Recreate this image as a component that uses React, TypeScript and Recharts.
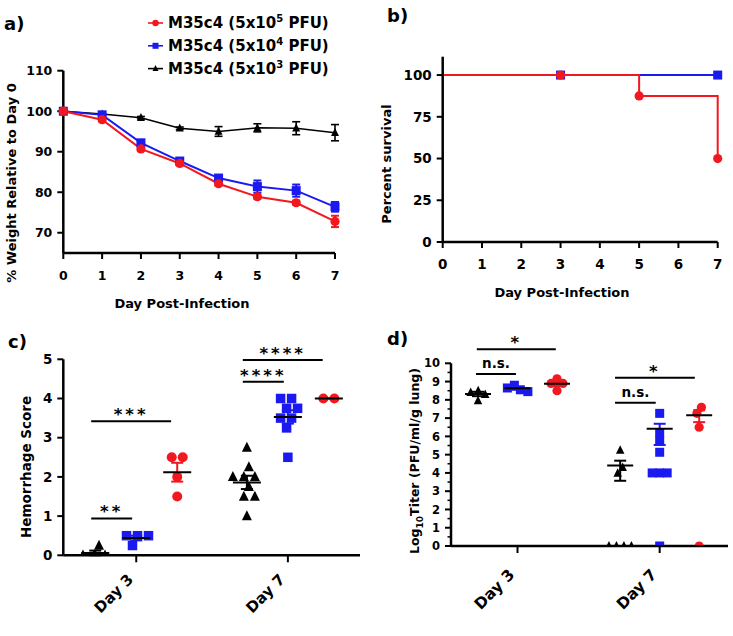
import React from "react";
import {
  LineChart, Line, ScatterChart, Scatter, XAxis, YAxis, ErrorBar,
  ReferenceLine, ReferenceDot,
} from "recharts";

const FONT = "'DejaVu Sans', Verdana, sans-serif";
const RED = "#f2181f";
const BLUE = "#1a1af0";
const BLACK = "#000000";

// a) weight relative to day 0 (mean, SEM)
const days = [0, 1, 2, 3, 4, 5, 6, 7];
const weight5e5 = [100, 97.9, 90.7, 87.1, 82.1, 78.9, 77.4, 72.8];
const weight5e5Sem = [0.3, 0.4, 0.5, 0.5, 0.5, 0.5, 0.5, 1.4];
const weight5e4 = [100, 99.1, 92.2, 87.7, 83.5, 81.4, 80.4, 76.4];
const weight5e4Sem = [0.3, 0.3, 0.5, 0.4, 0.6, 1.5, 1.5, 1.2];
const weight5e3 = [100, 99.3, 98.4, 95.8, 95.0, 95.9, 95.8, 94.7];
const weight5e3Sem = [0.2, 0.2, 0.3, 0.3, 1.2, 1.0, 1.6, 2.0];

// b) percent survival
const survDays5e5 = [0, 3, 5, 7];
const survPct5e5 = [100, 100, 87.5, 50];
const survDays5e4 = [0, 3, 7];
const survPct5e4 = [100, 100, 100];
const survDays5e3 = [0, 3, 7];
const survPct5e3 = [100, 100, 100];

// c) hemorrhage score, individual mice
const hem5e3Day3 = [0, 0, 0, 0.25];
const hem5e3Day7 = [2.75, 2.25, 2, 2, 2, 1.75, 1.5, 1.5, 1];
const hem5e4Day3 = [0.5, 0.5, 0.5, 0.25];
const hem5e4Day7 = [4, 4, 3.75, 3.75, 3.5, 3.5, 3.25, 2.5];
const hem5e5Day3 = [2.5, 2.5, 2, 1.5];
const hem5e5Day7 = [4, 4];
const hemMean5e3 = [0.06, 1.86];
const hemSem5e3 = [0.06, 0.17];
const hemMean5e4 = [0.44, 3.53];
const hemSem5e4 = [0.06, 0.17];
const hemMean5e5 = [2.12, 4.0];
const hemSem5e5 = [0.24, 0];

// d) lung titers (log10 PFU/ml/g)
const titer5e3Day3 = [8.5, 8.4, 8.3, 7.95];
const titer5e3Day7 = [5.25, 4.3, 3.98, 0, 0, 0, 0];
const titer5e4Day3 = [8.8, 8.65, 8.55, 8.45];
const titer5e4Day7 = [7.26, 6.2, 5.75, 5.13, 4, 4, 4, 0];
const titer5e5Day3 = [9.15, 8.9, 8.9, 8.5];
const titer5e5Day7 = [7.59, 7.26, 6.5, 0];
const titerMean5e3 = [8.32, 4.4];
const titerLow5e3 = [0.12, 0.83];
const titerHigh5e3 = [0.12, 0.27];
const titerMean5e4 = [8.63, 6.42];
const titerLow5e4 = [0.08, 0.89];
const titerHigh5e4 = [0.08, 0.27];
const titerMean5e5 = [8.88, 7.15];
const titerLow5e5 = [0.12, 0.37];
const titerHigh5e5 = [0.12, 0.28];

const hemSig = [
  { x1: 0.9, x2: 1.9, y: 0.94, text: "**" },
  { x1: 0.9, x2: 2.85, y: 3.42, text: "***" },
  { x1: 4.6, x2: 5.6, y: 4.43, text: "****" },
  { x1: 4.6, x2: 6.55, y: 4.98, text: "****" },
];
const titerSig = [
  { x1: 0.95, x2: 1.96, y: 9.41, text: "n.s." },
  { x1: 0.97, x2: 2.97, y: 10.77, text: "*" },
  { x1: 4.47, x2: 5.5, y: 7.84, text: "n.s." },
  { x1: 4.47, x2: 6.49, y: 9.21, text: "*" },
];

// column centres on the x axis of c) and d)
const hemCols = [1, 4.7];
const titerCols = [1, 4.6];

const axisLine = { stroke: "#000", strokeWidth: 2.5 };
const tickLine = { stroke: "#000", strokeWidth: 2 };
const tickFont = (size: number) => ({ fill: "#000", fontSize: size, fontWeight: 700, fontFamily: FONT });

// beeswarm placement of one column; pxX / pxY are pixels per axis unit, d is the marker spacing
function swarm(values: number[], center: number, pxX: number, pxY: number, d: number) {
  const sorted = [...values].sort((a, b) => b - a);
  const placed: { dx: number; y: number }[] = [];
  sorted.forEach((v) => {
    for (let k = 0; k < 400; k++) {
      const off = k === 0 ? 0 : (k % 2 ? -1 : 1) * Math.ceil(k / 2) * 0.5;
      const free = placed.every((p) => Math.hypot(p.dx - off, (p.y - v) * pxY) >= d);
      if (free) { placed.push({ dx: off, y: v }); break; }
    }
  });
  // centre each touching group on the column
  const root = placed.map((_, i) => i);
  const find = (i: number): number => (root[i] === i ? i : (root[i] = find(root[i])));
  for (let i = 0; i < placed.length; i++)
    for (let j = i + 1; j < placed.length; j++)
      if (Math.hypot(placed[i].dx - placed[j].dx, (placed[i].y - placed[j].y) * pxY) <= d + 0.6)
        root[find(i)] = find(j);
  const sums: Record<number, { s: number; n: number }> = {};
  placed.forEach((p, i) => {
    const r = find(i);
    sums[r] = sums[r] || { s: 0, n: 0 };
    sums[r].s += p.dx; sums[r].n += 1;
  });
  return placed.map((p, i) => {
    const g = sums[find(i)];
    return { x: center + (p.dx - g.s / g.n) / pxX, y: p.y };
  });
}

const triPoints = (cx: number, cy: number, s: number) =>
  `${cx},${cy - s * 0.58} ${cx - s / 2},${cy + s * 0.42} ${cx + s / 2},${cy + s * 0.42}`;

const circleShape = (r: number, fill: string, clip: string) => (p: any) =>
  <circle cx={p.cx} cy={p.cy} r={r} fill={fill} clipPath={`url(#${clip})`} />;
const squareShape = (s: number, fill: string, clip: string) => (p: any) =>
  <rect x={p.cx - s / 2} y={p.cy - s / 2} width={s} height={s} fill={fill} clipPath={`url(#${clip})`} />;
const triShape = (s: number, fill: string, clip: string) => (p: any) =>
  <polygon points={triPoints(p.cx, p.cy, s)} fill={fill} clipPath={`url(#${clip})`} />;
const meanShape = (half: number) => (p: any) =>
  <line x1={p.cx - half} x2={p.cx + half} y1={p.cy} y2={p.cy} stroke="#000" strokeWidth={2} />;

const skipFirst = (draw: (p: any) => React.ReactElement) => (p: any) =>
  p.payload && p.payload.day === 0 ? <g key={"s" + p.index} /> : <g key={"s" + p.index}>{draw(p)}</g>;
const dotOf = (draw: (p: any) => React.ReactElement) => (p: any) => <g key={"d" + p.index}>{draw(p)}</g>;

const dayTick = (drop: number, fs: number) => (p: any) => {
  const ax = p.x - 2;
  const ay = p.y + drop;
  return (
    <text x={ax} y={ay} transform={`rotate(-45 ${ax} ${ay})`} textAnchor="end"
      fontSize={fs} fontWeight={700} fontFamily={FONT} fill="#000">
      {p.payload.value < 4 ? "Day 3" : "Day 7"}
    </text>
  );
};

const sigText = (text: string) => (p: any) => {
  const ns = text === "n.s.";
  return (
    <text x={p.cx} y={p.cy - (ns ? 6 : 1)} textAnchor="middle" fontFamily={FONT} fontWeight={700}
      fontSize={ns ? 13.5 : 16.5} letterSpacing={ns ? 0 : 3} fill="#000">
      {text}
    </text>
  );
};

const TITER_AXIS_X = 81;
const TiterTick = (p: any) => {
  const v = p.payload.value;
  const major = Math.abs(v - Math.round(v)) < 1e-6;
  return (
    <g>
      <line x1={TITER_AXIS_X - (major ? 6 : 3.5)} x2={TITER_AXIS_X} y1={p.y} y2={p.y} stroke="#000" strokeWidth={major ? 2 : 1.5} />
      {major && (
        <text x={TITER_AXIS_X - 11} y={p.y} dy="0.36em" textAnchor="end" fontSize={11.5} fontWeight={700} fontFamily={FONT} fill="#000">
          {v}
        </text>
      )}
    </g>
  );
};

const meanRows = (cols: number[], means: number[], low: number[], high: number[]) =>
  cols.map((x, i) => ({ x, y: means[i], err: [low[i], high[i]] }));

function WeightPanel() {
  const rows = days.map((d, i) => ({
    day: d,
    w5: weight5e5[i], w5Err: weight5e5Sem[i],
    w4: weight5e4[i], w4Err: weight5e4Sem[i],
    w3: weight5e3[i], w3Err: weight5e3Sem[i],
  }));
  return (
    <LineChart width={360} height={320} data={rows} margin={{ top: 70.7, right: 25, bottom: 27, left: 13.3 }}>
      <XAxis type="number" dataKey="day" domain={[0, 7]} ticks={days} height={40} axisLine={axisLine}
        tickLine={tickLine} tickSize={6} tickMargin={12} tick={tickFont(12.5)} />
      <YAxis type="number" domain={[65, 110]} ticks={[70, 80, 90, 100, 110]} width={50} axisLine={axisLine}
        tickLine={tickLine} tickSize={6} tickMargin={5} tick={tickFont(12.5)} />
      <Line dataKey="w3" stroke={BLACK} strokeWidth={1.6} isAnimationActive={false} activeDot={false}
        dot={dotOf((p) => <polygon points={triPoints(p.cx, p.cy, 8)} fill={BLACK} />)}>
        <ErrorBar dataKey="w3Err" direction="y" width={4} stroke={BLACK} strokeWidth={1.6} />
      </Line>
      <Line dataKey="w4" stroke={BLUE} strokeWidth={2} isAnimationActive={false} activeDot={false}
        dot={dotOf((p) => <rect x={p.cx - 4.5} y={p.cy - 4.5} width={9} height={9} fill={BLUE} />)}>
        <ErrorBar dataKey="w4Err" direction="y" width={4} stroke={BLUE} strokeWidth={2} />
      </Line>
      <Line dataKey="w5" stroke={RED} strokeWidth={2} isAnimationActive={false} activeDot={false}
        dot={dotOf((p) => <circle cx={p.cx} cy={p.cy} r={4.6} fill={RED} />)}>
        <ErrorBar dataKey="w5Err" direction="y" width={4} stroke={RED} strokeWidth={2} />
      </Line>
    </LineChart>
  );
}

function SurvivalPanel() {
  const r5 = survDays5e5.map((d, i) => ({ day: d, pct: survPct5e5[i] }));
  const r4 = survDays5e4.map((d, i) => ({ day: d, pct: survPct5e4[i] }));
  const r3 = survDays5e3.map((d, i) => ({ day: d, pct: survPct5e3[i] }));
  return (
    <LineChart width={363} height={320} margin={{ top: 56.7, right: 15.3, bottom: 38, left: 22.7 }}>
      <XAxis type="number" dataKey="day" domain={[0, 7]} ticks={days} height={40} axisLine={axisLine}
        tickLine={tickLine} tickSize={6} tickMargin={11} tick={tickFont(13.5)} />
      <YAxis type="number" domain={[0, 111]} ticks={[0, 25, 50, 75, 100]} width={50} axisLine={axisLine}
        tickLine={tickLine} tickSize={6} tickMargin={5} tick={tickFont(13.5)} />
      <Line data={r3} dataKey="pct" type="stepAfter" stroke={BLACK} strokeWidth={2} isAnimationActive={false}
        activeDot={false} dot={skipFirst((p) => <polygon points={triPoints(p.cx, p.cy, 7)} fill={BLACK} />)} />
      <Line data={r4} dataKey="pct" type="stepAfter" stroke={BLUE} strokeWidth={2} isAnimationActive={false}
        activeDot={false} dot={skipFirst((p) => <rect x={p.cx - 4.5} y={p.cy - 4.5} width={9} height={9} fill={BLUE} />)} />
      <Line data={r5} dataKey="pct" type="stepAfter" stroke={RED} strokeWidth={2} isAnimationActive={false}
        activeDot={false} dot={skipFirst((p) => <circle cx={p.cx} cy={p.cy} r={4.6} fill={RED} />)} />
    </LineChart>
  );
}

function HemorrhagePanel() {
  const sw = (vals: number[], c: number) => swarm(vals, c, 41, 39.2, 11);
  const p3 = [...sw(hem5e3Day3, hemCols[0]), ...sw(hem5e3Day7, hemCols[1])];
  const p4 = [...sw(hem5e4Day3, hemCols[0] + 1), ...sw(hem5e4Day7, hemCols[1] + 1)];
  const p5 = [...sw(hem5e5Day3, hemCols[0] + 2), ...sw(hem5e5Day7, hemCols[1] + 2)];
  return (
    <ScatterChart width={370} height={316} margin={{ top: 39.3, right: 10, bottom: 20.7, left: 23.3 }}>
      <XAxis type="number" dataKey="x" domain={[0.22, 7.46]} ticks={[2, 5.7]} height={60} allowDataOverflow
        axisLine={axisLine} tickLine={tickLine} tickSize={7} tickMargin={0} tick={dayTick(18, 15)} />
      <YAxis type="number" dataKey="y" domain={[0, 5]} ticks={[0, 1, 2, 3, 4, 5]} width={40} allowDataOverflow
        axisLine={axisLine} tickLine={tickLine} tickSize={6} tickMargin={5} tick={tickFont(13.5)} />
      <Scatter data={p3} shape={triShape(10, BLACK, "clipHem")} isAnimationActive={false} />
      <Scatter data={p4} shape={squareShape(9.5, BLUE, "clipHem")} isAnimationActive={false} />
      <Scatter data={p5} shape={circleShape(5, RED, "clipHem")} isAnimationActive={false} />
      <Scatter data={meanRows(hemCols, hemMean5e3, hemSem5e3, hemSem5e3)} shape={meanShape(14)} isAnimationActive={false}>
        <ErrorBar dataKey="err" direction="y" width={6} stroke={BLACK} strokeWidth={2} />
      </Scatter>
      <Scatter data={meanRows(hemCols.map((c) => c + 1), hemMean5e4, hemSem5e4, hemSem5e4)} shape={meanShape(14)} isAnimationActive={false}>
        <ErrorBar dataKey="err" direction="y" width={6} stroke={BLUE} strokeWidth={2} />
      </Scatter>
      <Scatter data={meanRows(hemCols.map((c) => c + 2), hemMean5e5, hemSem5e5, hemSem5e5)} shape={meanShape(14)} isAnimationActive={false}>
        <ErrorBar dataKey="err" direction="y" width={6} stroke={RED} strokeWidth={2} />
      </Scatter>
      {hemSig.map((s, i) => (
        <ReferenceLine key={"l" + i} segment={[{ x: s.x1, y: s.y }, { x: s.x2, y: s.y }]} stroke="#000" strokeWidth={2} ifOverflow="visible" />
      ))}
      {hemSig.map((s, i) => (
        <ReferenceDot key={"t" + i} x={(s.x1 + s.x2) / 2} y={s.y} r={0} ifOverflow="visible" shape={sigText(s.text)} />
      ))}
    </ScatterChart>
  );
}

function TiterPanel() {
  const sw = (vals: number[], c: number) => swarm(vals, c, 39.5, 18.27, 7.5);
  const p3 = [...sw(titer5e3Day3, titerCols[0]), ...sw(titer5e3Day7, titerCols[1])];
  const p4 = [...sw(titer5e4Day3, titerCols[0] + 1), ...sw(titer5e4Day7, titerCols[1] + 1)];
  const p5 = [...sw(titer5e5Day3, titerCols[0] + 2), ...sw(titer5e5Day7, titerCols[1] + 2)];
  const yTicks = Array.from({ length: 21 }, (_, i) => i / 2);
  return (
    <ScatterChart width={363} height={316} margin={{ top: 43.3, right: 5, bottom: 30, left: TITER_AXIS_X - 40 }}>
      <XAxis type="number" dataKey="x" domain={[0.316, 7.33]} ticks={[2, 5.6]} height={60} allowDataOverflow
        axisLine={axisLine} tickLine={tickLine} tickSize={7} tickMargin={0} tick={dayTick(22.7, 15.5)} />
      <YAxis type="number" dataKey="y" domain={[0, 10]} ticks={yTicks} interval={0} width={40} allowDataOverflow
        axisLine={axisLine} tickLine={false} tickSize={6} tickMargin={6} tick={TiterTick} />
      <Scatter data={p3} shape={triShape(8.5, BLACK, "clipTiter")} isAnimationActive={false} />
      <Scatter data={p4} shape={squareShape(9, BLUE, "clipTiter")} isAnimationActive={false} />
      <Scatter data={p5} shape={circleShape(4.6, RED, "clipTiter")} isAnimationActive={false} />
      <Scatter data={meanRows(titerCols, titerMean5e3, titerLow5e3, titerHigh5e3)} shape={meanShape(13)} isAnimationActive={false}>
        <ErrorBar dataKey="err" direction="y" width={6} stroke={BLACK} strokeWidth={2} />
      </Scatter>
      <Scatter data={meanRows(titerCols.map((c) => c + 1), titerMean5e4, titerLow5e4, titerHigh5e4)} shape={meanShape(13)} isAnimationActive={false}>
        <ErrorBar dataKey="err" direction="y" width={6} stroke={BLUE} strokeWidth={2} />
      </Scatter>
      <Scatter data={meanRows(titerCols.map((c) => c + 2), titerMean5e5, titerLow5e5, titerHigh5e5)} shape={meanShape(13)} isAnimationActive={false}>
        <ErrorBar dataKey="err" direction="y" width={6} stroke={RED} strokeWidth={2} />
      </Scatter>
      {titerSig.map((s, i) => (
        <ReferenceLine key={"l" + i} segment={[{ x: s.x1, y: s.y }, { x: s.x2, y: s.y }]} stroke="#000" strokeWidth={2} ifOverflow="visible" />
      ))}
      {titerSig.map((s, i) => (
        <ReferenceDot key={"t" + i} x={(s.x1 + s.x2) / 2} y={s.y} r={0} ifOverflow="visible" shape={sigText(s.text)} />
      ))}
    </ScatterChart>
  );
}

const legendRows = [
  { exp: "5", color: RED, mark: "circle" },
  { exp: "4", color: BLUE, mark: "square" },
  { exp: "3", color: BLACK, mark: "tri" },
];

function Overlay() {
  const t = { fontFamily: FONT, fontWeight: 700, fill: "#000" } as const;
  return (
    <svg width={733} height={636} style={{ position: "absolute", left: 0, top: 0, pointerEvents: "none" }}>
      <defs>
        {/* keep scatter marks above the x axis line of c) and d) */}
        <clipPath id="clipHem" clipPathUnits="userSpaceOnUse"><rect x={0} y={0} width={370} height={234.5} /></clipPath>
        <clipPath id="clipTiter" clipPathUnits="userSpaceOnUse"><rect x={0} y={0} width={363} height={225.2} /></clipPath>
      </defs>
      <text x={4} y={30} fontSize={18} {...t}>a)</text>
      <text x={387} y={22} fontSize={18} {...t}>b)</text>
      <text x={8} y={348} fontSize={18} {...t}>c)</text>
      <text x={387} y={345} fontSize={18} {...t}>d)</text>

      {legendRows.map((r, i) => {
        const base = 28 + i * 22.8;
        const cy = base - 5;
        return (
          <g key={i}>
            <line x1={148} x2={163} y1={cy} y2={cy} stroke={r.color} strokeWidth={1.6} />
            {r.mark === "circle" && <circle cx={155.5} cy={cy} r={3.2} fill={r.color} />}
            {r.mark === "square" && <rect x={152.5} y={cy - 3} width={6} height={6} fill={r.color} />}
            {r.mark === "tri" && <polygon points={triPoints(155.5, cy, 6)} fill={r.color} />}
            <text x={168} y={base} fontSize={15} {...t}>
              M35c4 (5x10<tspan dy={-6} fontSize={10}>{r.exp}</tspan><tspan dy={6}> PFU)</tspan>
            </text>
          </g>
        );
      })}

      <text x={182} y={307.5} fontSize={13} textAnchor="middle" {...t}>Day Post-Infection</text>
      <text transform="translate(16 183) rotate(-90)" fontSize={13} textAnchor="middle" {...t}>
        % Weight Relative to Day 0
      </text>

      <text x={562} y={297} fontSize={13} textAnchor="middle" {...t}>Day Post-Infection</text>
      <text transform="translate(391 164) rotate(-90)" fontSize={13} textAnchor="middle" {...t}>
        Percent survival
      </text>

      <text transform="translate(31 467) rotate(-90)" fontSize={13.5} textAnchor="middle" {...t}>
        Hemorrhage Score
      </text>

      <text transform="translate(419 461) rotate(-90)" fontSize={12.5} textAnchor="middle" {...t}>
        Log<tspan fontSize={9} dy={4}>10</tspan><tspan dy={-4}>Titer (PFU/ml/g lung)</tspan>
      </text>
    </svg>
  );
}

export default function App() {
  return (
    <div style={{ position: "absolute", left: 0, top: 0, width: 733, height: 636, background: "#fff" }}>
      <div style={{ position: "absolute", left: 0, top: 0 }}><WeightPanel /></div>
      <div style={{ position: "absolute", left: 370, top: 0 }}><SurvivalPanel /></div>
      <div style={{ position: "absolute", left: 0, top: 320 }}><HemorrhagePanel /></div>
      <div style={{ position: "absolute", left: 370, top: 320 }}><TiterPanel /></div>
      <Overlay />
    </div>
  );
}
